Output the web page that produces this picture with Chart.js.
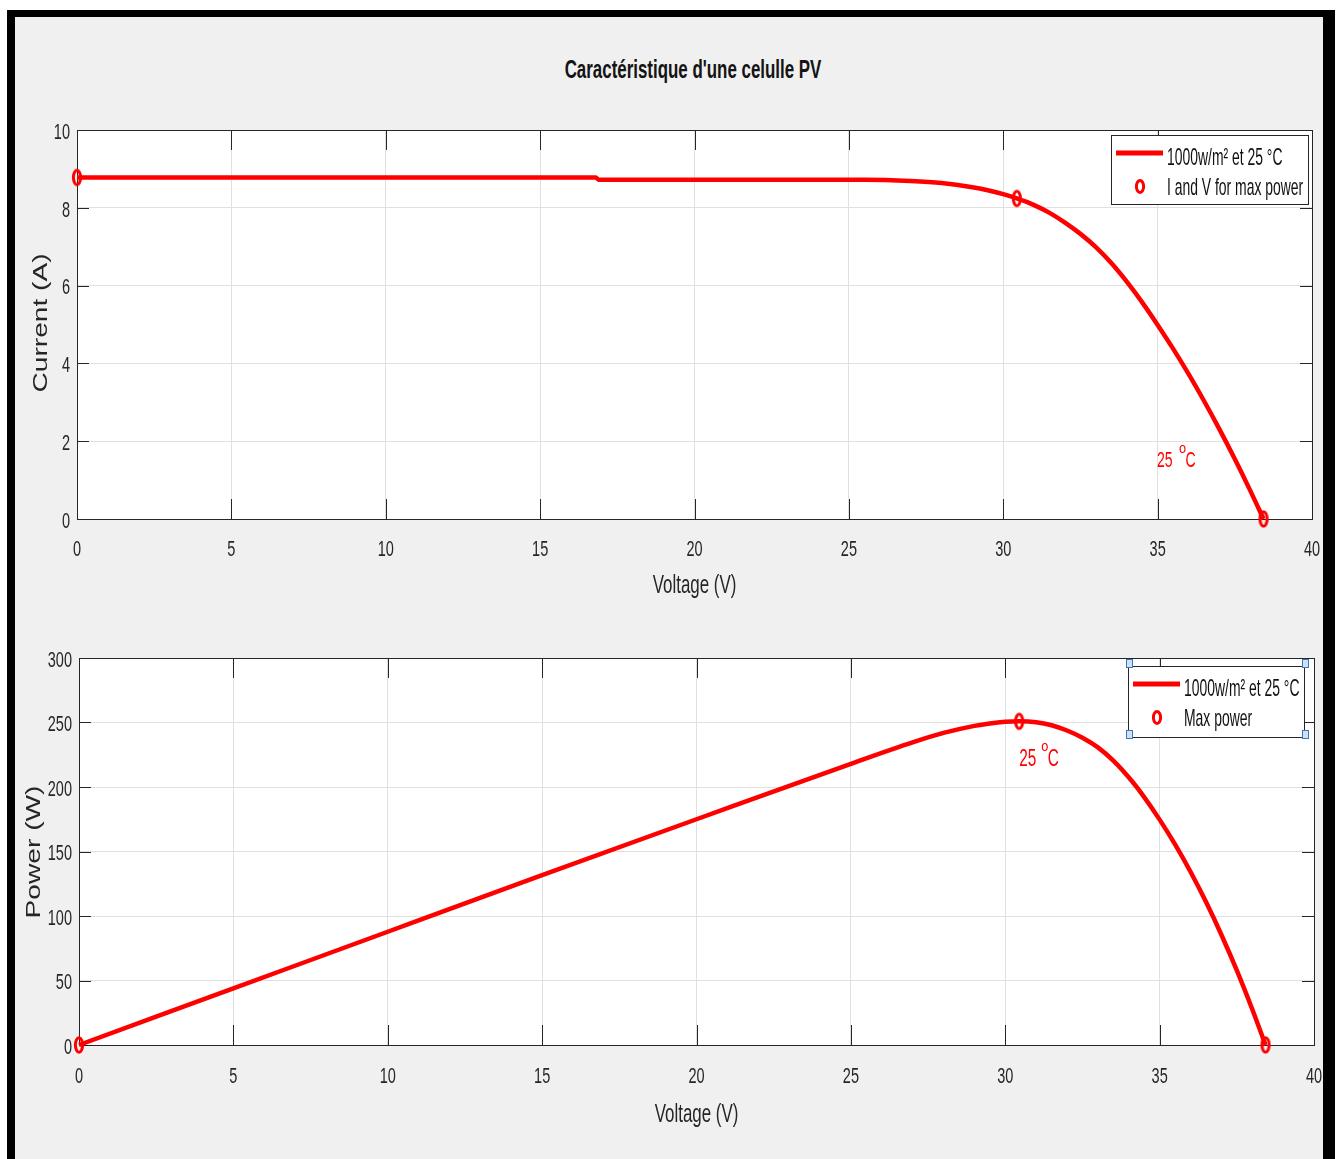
<!DOCTYPE html>
<html>
<head>
<meta charset="utf-8">
<script src="https://cdn.jsdelivr.net/npm/chart.js@4.4.1/dist/chart.umd.min.js"></script>
<style>
  body { margin: 0; width: 1340px; height: 1159px; background: #fff; overflow: hidden; position: relative; }
  #frame { position: absolute; left: 7px; top: 10px; width: 1328px; height: 1170px; background: #f0f0f0;
           border-left: 8px solid #000; border-top: 7px solid #000; border-right: 12px solid #000; box-sizing: border-box; }
  #title { position: absolute; left: 393px; top: 56px; width: 600px; text-align: center; color: #141414;
           font: bold 26px/26px "Liberation Sans", Arial, sans-serif; transform: scaleX(0.65); white-space: nowrap; }
  .plot { position: absolute; left: 0; width: 1340px; }
  #top { top: 0; height: 620px; }
  #bottom { top: 620px; height: 539px; }
  #edge { position: absolute; left: 1323px; top: 10px; width: 12px; height: 1160px; background: #000; }
</style>
</head>
<body>
<div id="frame"></div>
<div id="title">Caractéristique d'une celulle PV</div>
<div class="plot" id="top"><canvas id="ivChart"></canvas></div>
<div class="plot" id="bottom"><canvas id="pvChart"></canvas></div>
<div id="edge"></div>
<script>
// I-V curve, 1000 W/m² and 25 °C
const voltsIV = [0, 16.8, 16.9, 25.5, 27, 28, 29, 29.5, 30, 30.44, 31, 31.5, 32, 32.5, 33, 33.5, 34.1, 34.5, 35, 35.5, 36, 36.5, 37, 37.5, 38, 38.43];
const currentIV = [8.78, 8.78, 8.72, 8.72, 8.69, 8.64, 8.53, 8.45, 8.35, 8.24, 8.07, 7.87, 7.62, 7.33, 6.99, 6.58, 6.0, 5.57, 4.99, 4.38, 3.73, 3.04, 2.31, 1.54, 0.73, 0];
const voltsMarkIV = [0, 30.44, 38.43];
const currentMark = [8.78, 8.24, 0];

// P-V curve
const voltsPV = [0, 5, 10, 15, 20, 25, 27, 28, 29, 29.5, 30, 30.45, 31, 31.5, 32, 32.5, 33, 33.5, 34.1, 34.5, 35, 35.5, 36, 36.5, 37, 37.5, 38, 38.43];
const powerPV = [0, 43.9, 87.8, 131.6, 175, 218, 234.6, 241.9, 247.4, 249.3, 250.5, 250.9, 250.2, 247.9, 243.8, 238.2, 230.7, 220.4, 204.6, 192.2, 174.7, 155.5, 134.3, 111, 85.5, 57.8, 27.7, 0];
const voltsMarkPV = [0, 30.45, 38.43];
const powerMark = [0, 250.9, 0];

const xTicks = ['0', '5', '10', '15', '20', '25', '30', '35', '40'];

const SANS = '"Liberation Sans", Arial, sans-serif';
const RED = '#ff0000';
const AXIS = '#262626';

const toXY = (xs, ys) => xs.map((v, i) => ({ x: v, y: ys[i] }));

// hollow marker, taller than wide like the original figure
const mark = document.createElement('canvas');
mark.width = 14; mark.height = 22;
(function () {
  const m = mark.getContext('2d');
  m.strokeStyle = RED; m.lineWidth = 3;
  m.beginPath(); m.ellipse(7, 11, 3.6, 7.2, 0, 0, Math.PI * 2); m.stroke();
})();

// narrow text: cap centre at y, squeezed horizontally
function text(ctx, s, x, y, size, sx, align, color, weight) {
  ctx.save();
  ctx.translate(x, y + 0.358 * size);
  ctx.scale(sx, 1);
  ctx.font = (weight || '') + ' ' + size + 'px ' + SANS;
  ctx.textAlign = align;
  ctx.textBaseline = 'alphabetic';
  ctx.fillStyle = color;
  ctx.fillText(s, 0, 0);
  ctx.restore();
}

const matlabAxes = {
  id: 'matlabAxes',
  beforeDraw(chart) {
    const { ctx, chartArea: a } = chart;
    ctx.save();
    ctx.fillStyle = '#fff';
    ctx.fillRect(a.left, a.top, a.right - a.left, a.bottom - a.top);
    ctx.restore();
  },
  beforeDatasetsDraw(chart) {
    const { ctx, chartArea: a, scales: { x, y } } = chart;
    ctx.save();
    ctx.strokeStyle = AXIS;
    ctx.lineWidth = 1;
    ctx.beginPath();
    x.ticks.forEach(t => {
      const px = Math.round(x.getPixelForValue(t.value)) + 0.5;
      ctx.moveTo(px, a.bottom); ctx.lineTo(px, a.bottom - 20);
      ctx.moveTo(px, a.top); ctx.lineTo(px, a.top + 20);
    });
    y.ticks.forEach(t => {
      const py = Math.round(y.getPixelForValue(t.value)) + 0.5;
      ctx.moveTo(a.left, py); ctx.lineTo(a.left + 12, py);
      ctx.moveTo(a.right, py); ctx.lineTo(a.right - 12, py);
    });
    ctx.stroke();
    ctx.strokeRect(Math.round(a.left) + 0.5, Math.round(a.top) + 0.5, Math.round(a.right - a.left), Math.round(a.bottom - a.top));
    ctx.restore();
  },
  afterDraw(chart, args, opts) {
    const { ctx, chartArea: a, scales: { x, y } } = chart;

    // tick labels from the scales
    x.ticks.forEach((t, i) => {
      text(ctx, xTicks[i], x.getPixelForValue(t.value), a.bottom + opts.xLabelGap, 22, 0.66, 'center', AXIS);
    });
    y.ticks.forEach(t => {
      text(ctx, String(t.value), a.left - 7, y.getPixelForValue(t.value) + 1, 22, 0.66, 'right', AXIS);
    });

    // axis titles
    text(ctx, 'Voltage (V)', (a.left + a.right) / 2, a.bottom + opts.xTitleGap, 26, 0.65, 'center', AXIS);
    ctx.save();
    ctx.translate(opts.yTitle.x, opts.yTitle.y);
    ctx.rotate(-Math.PI / 2);
    ctx.scale(1.34, 1);
    ctx.fillStyle = AXIS;
    ctx.font = '21px ' + SANS;
    ctx.textAlign = 'center';
    ctx.textBaseline = 'alphabetic';
    ctx.fillText(opts.yTitle.text, 0, 7.5);
    ctx.restore();

    // temperature note
    const nx = x.getPixelForValue(opts.note.x);
    const ny = y.getPixelForValue(opts.note.y);
    text(ctx, '25', nx, ny, opts.note.size, 0.64, 'left', RED);
    text(ctx, 'o', nx + 22, ny - 11, 15, 0.85, 'left', RED);
    text(ctx, 'C', nx + 28.5, ny, opts.note.size, 0.64, 'left', RED);

    // legend
    const L = opts.legend;
    ctx.save();
    ctx.fillStyle = '#fff';
    ctx.fillRect(L.x, L.y, L.w, L.h);
    ctx.strokeStyle = AXIS;
    ctx.lineWidth = 1;
    ctx.strokeRect(L.x + 0.5, L.y + 0.5, L.w, L.h);
    ctx.strokeStyle = RED;
    ctx.lineWidth = 5;
    ctx.beginPath();
    ctx.moveTo(L.x + 5, L.y + 18); ctx.lineTo(L.x + 52, L.y + 18);
    ctx.stroke();
    ctx.lineWidth = 3;
    ctx.beginPath();
    ctx.ellipse(L.x + 29, L.y + 51.5, 3.6, 6, 0, 0, Math.PI * 2);
    ctx.stroke();
    ctx.restore();
    text(ctx, L.labels[0], L.x + 56, L.y + 21, 24, 0.58, 'left', '#111');
    text(ctx, L.labels[1], L.x + 56, L.y + 51, 24, 0.58, 'left', '#111');
    if (L.handles) {
      ctx.save();
      ctx.fillStyle = '#cfe0f2';
      ctx.strokeStyle = '#3a78b8';
      ctx.lineWidth = 1;
      [[L.x + 1, L.y - 3], [L.x + L.w + 1, L.y - 3], [L.x + 1, L.y + L.h - 3], [L.x + L.w + 1, L.y + L.h - 3]].forEach(([hx, hy]) => {
        ctx.fillRect(hx - 3, hy - 4, 7, 9);
        ctx.strokeRect(hx - 3 + 0.5, hy - 4 + 0.5, 6, 8);
      });
      ctx.restore();
    }
  }
};

function makeChart(id, cfg) {
  return new Chart(document.getElementById(id).getContext('2d'), {
    type: 'scatter',
    data: {
      datasets: [{
        data: cfg.curve,
        showLine: true,
        borderColor: RED,
        borderWidth: 4.5,
        pointRadius: 0,
        cubicInterpolationMode: 'monotone',
        clip: false
      }, {
        data: cfg.marks,
        showLine: false,
        pointStyle: mark,
        borderColor: RED,
        backgroundColor: RED,
        clip: false
      }]
    },
    options: {
      responsive: true,
      maintainAspectRatio: false,
      animation: false,
      events: [],
      layout: { padding: cfg.padding },
      plugins: {
        legend: { display: false },
        tooltip: { enabled: false },
        matlabAxes: {
          legend: cfg.legend, note: cfg.note, yTitle: cfg.yTitle,
          xLabelGap: cfg.xLabelGap, xTitleGap: cfg.xTitleGap
        }
      },
      scales: {
        x: {
          type: 'linear', min: 0, max: 40,
          afterFit: s => { s.height = cfg.xHeight; },
          ticks: { stepSize: 5, display: false },
          grid: { color: '#e0e0e0', drawTicks: false },
          border: { display: false }
        },
        y: {
          type: 'linear', min: 0, max: cfg.yMax,
          afterFit: s => { s.width = cfg.yWidth; },
          ticks: { stepSize: cfg.yStep, display: false },
          grid: { color: '#e0e0e0', drawTicks: false },
          border: { display: false }
        }
      }
    },
    plugins: [matlabAxes]
  });
}

makeChart('ivChart', {
  curve: toXY(voltsIV, currentIV),
  marks: toXY(voltsMarkIV, currentMark),
  padding: { top: 130, right: 28, left: 0, bottom: 0 },
  xHeight: 101, yWidth: 77, xLabelGap: 29, xTitleGap: 65,
  yMax: 10, yStep: 2,
  note: { x: 34.98, y: 1.54, size: 22 },
  yTitle: { text: 'Current (A)', x: 39.5, y: 323 },
  legend: { x: 1111, y: 135, w: 197, h: 69, labels: ['1000w/m² et 25 °C', 'I and V for max power'] }
});

// canvas coordinates of the lower plot start at page y = 620
makeChart('pvChart', {
  curve: toXY(voltsPV, powerPV),
  marks: toXY(voltsMarkPV, powerMark),
  padding: { top: 38, right: 26, left: 0, bottom: 0 },
  xHeight: 114, yWidth: 79, xLabelGap: 30, xTitleGap: 68,
  yMax: 300, yStep: 50,
  note: { x: 30.45, y: 223.3, size: 24 },
  yTitle: { text: 'Power (W)', x: 32, y: 232 },
  legend: { x: 1128, y: 46, w: 176, h: 71, labels: ['1000w/m² et 25 °C', 'Max power'], handles: true }
});
</script>
</body>
</html>
